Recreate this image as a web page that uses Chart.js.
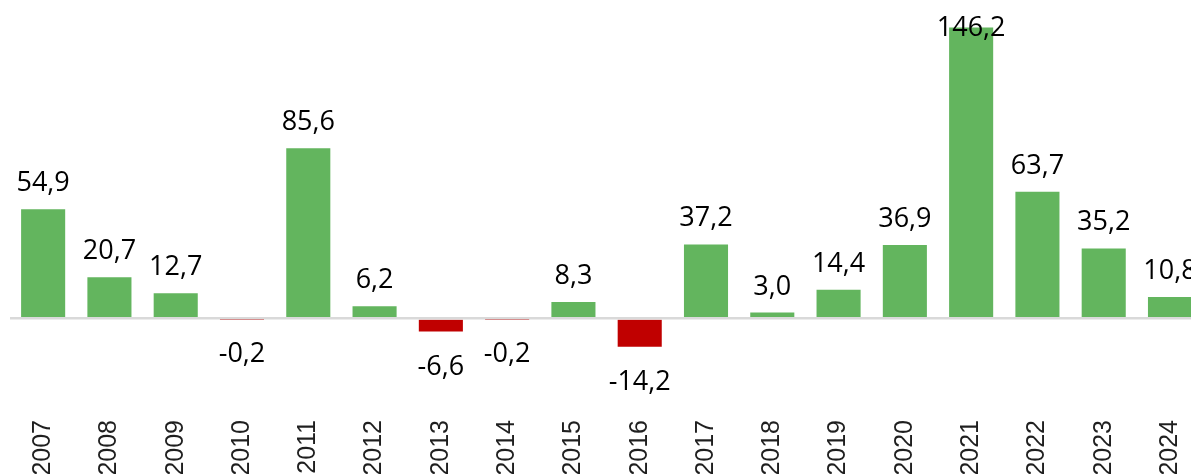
<!DOCTYPE html>
<html lang="pt-br">
<head>
    <meta charset="UTF-8">
    <title>Variação anual</title>
    <script src="https://cdn.jsdelivr.net/npm/chart.js"></script>
    <style>
        html, body { margin: 0; padding: 0; background: #fff; overflow: hidden; }
        .wrap { position: relative; width: 1191px; height: 474px; overflow: hidden; }
        canvas { position: absolute; left: 0; top: 0; }
    </style>
</head>
<body>
    <div class="wrap">
        <canvas id="grafico" width="1210" height="482"></canvas>
    </div>

    <script>
        const anos = ['2007', '2008', '2009', '2010', '2011', '2012', '2013', '2014', '2015',
                      '2016', '2017', '2018', '2019', '2020', '2021', '2022', '2023', '2024'];
        const valores = [54.9, 20.7, 12.7, -0.2, 85.6, 6.2, -6.6, -0.2, 8.3,
                         -14.2, 37.2, 3.0, 14.4, 36.9, 146.2, 63.7, 35.2, 10.8];

        const verde = '#63b55e';
        const vermelho = '#c00000';

        // rótulos de valor em cima / embaixo das barras
        const rotulos = {
            id: 'rotulos',
            afterDraw(chart) {
                const ctx = chart.ctx;
                const meta = chart.getDatasetMeta(0);
                ctx.save();
                ctx.font = '27px "Open Sans", sans-serif';
                ctx.fillStyle = '#000';
                ctx.textAlign = 'center';
                ctx.textBaseline = 'alphabetic';
                meta.data.forEach((bar, i) => {
                    const v = valores[i];
                    const txt = v.toFixed(1).replace('.', ',');
                    let y;
                    if (v >= 0) {
                        y = Math.max(bar.y - 18, 36);
                    } else {
                        y = bar.y + 43;
                    }
                    ctx.fillText(txt, bar.x, y);
                });
                ctx.restore();
            }
        };

        new Chart(document.getElementById('grafico'), {
            type: 'bar',
            data: {
                labels: anos,
                datasets: [{
                    data: valores,
                    backgroundColor: valores.map(v => v < 0 ? vermelho : verde),
                    categoryPercentage: 1,
                    barPercentage: 0.665
                }]
            },
            options: {
                responsive: false,
                animation: false,
                layout: { padding: { left: 10, right: 0, top: 20, bottom: 0 } },
                plugins: { legend: { display: false }, tooltip: { enabled: false } },
                scales: {
                    x: {
                        grid: { display: false, drawTicks: false },
                        border: { display: false },
                        afterFit: s => { s.height = 72; },
                        ticks: {
                            minRotation: 90,
                            maxRotation: 90,
                            padding: 10,
                            color: '#1f1f1f',
                            font: { family: '"Liberation Sans", Arial, sans-serif', size: 25 }
                        }
                    },
                    y: {
                        min: -46,
                        max: 150,
                        border: { display: false },
                        afterBuildTicks: s => { s.ticks = [{ value: 0 }]; },
                        afterFit: s => { s.width = 0; },
                        ticks: { display: false },
                        // linha do zero por cima das barras
                        grid: { z: 1, drawTicks: false, color: '#d9d9d9', lineWidth: 2.5 }
                    }
                }
            },
            plugins: [rotulos]
        });
    </script>
</body>
</html>
